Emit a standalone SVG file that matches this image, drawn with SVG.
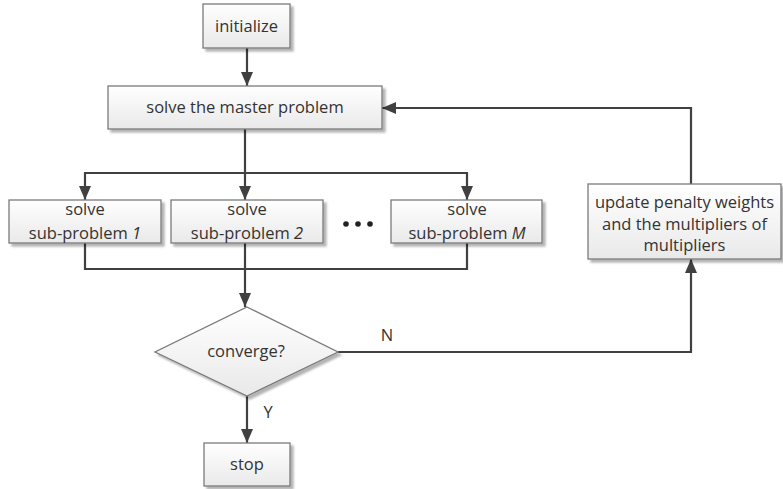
<svg xmlns="http://www.w3.org/2000/svg" width="783" height="489" viewBox="0 0 783 489">
<defs>
<linearGradient id="g" x1="0" y1="0" x2="0" y2="1">
<stop offset="0" stop-color="#ffffff"/>
<stop offset="1" stop-color="#e9e9e9"/>
</linearGradient>
<filter id="sh" x="-10%" y="-10%" width="130%" height="140%">
<feGaussianBlur in="SourceAlpha" stdDeviation="1"/>
<feOffset dx="3" dy="3" result="b"/>
<feComponentTransfer><feFuncA type="linear" slope="0.3"/></feComponentTransfer>
<feMerge><feMergeNode/><feMergeNode in="SourceGraphic"/></feMerge>
</filter>
<marker id="ar" markerWidth="14" markerHeight="12" viewBox="0 0 14 12" refX="14" refY="6" orient="auto" markerUnits="userSpaceOnUse">
<path d="M0,0 L14,6 L0,12 z" fill="#404040"/>
</marker>
</defs>
<style>
.box{fill:url(#g);stroke:#7a7a7a;stroke-width:1.3;filter:url(#sh)}
.t{font-family:"Open Sans","Liberation Sans",sans-serif;font-size:16.5px;fill:#333;text-anchor:middle}
.c{fill:none;stroke:#404040;stroke-width:2.2}
</style>
<g id="connectors">
<path class="c" d="M247,48 V86" marker-end="url(#ar)"/>
<path class="c" d="M245,129 V173 H85 V200" marker-end="url(#ar)"/>
<path class="c" d="M245,173 V200" marker-end="url(#ar)"/>
<path class="c" d="M245,173 H467 V200" marker-end="url(#ar)"/>
<path class="c" d="M85,243 V269 H467 V243"/>
<path class="c" d="M245,243 V307" marker-end="url(#ar)"/>
<path class="c" d="M247,396 V443" marker-end="url(#ar)"/>
<path class="c" d="M338,352 H691 V259" marker-end="url(#ar)"/>
<path class="c" d="M691,184 V108 H382" marker-end="url(#ar)"/>
<text class="t" x="387" y="341">N</text>
<text class="t" x="268" y="418">Y</text>
</g>
<g id="initialize">
<rect class="box" x="203" y="4" width="87" height="44"/>
<text class="t" x="246.5" y="32">initialize</text>
</g>
<g id="master">
<rect class="box" x="108" y="86" width="274" height="43"/>
<text class="t" x="245" y="113">solve the master problem</text>
</g>
<g id="sub1">
<rect class="box" x="9" y="200" width="152" height="43"/>
<text class="t" x="85" y="215">solve</text>
<text class="t" x="85" y="239">sub-problem <tspan font-style="italic">1</tspan></text>
</g>
<g id="sub2">
<rect class="box" x="171" y="200" width="152" height="43"/>
<text class="t" x="247" y="215">solve</text>
<text class="t" x="247" y="239">sub-problem <tspan font-style="italic">2</tspan></text>
</g>
<g id="dots" fill="#222">
<circle cx="346" cy="224" r="2.8"/>
<circle cx="358" cy="224" r="2.8"/>
<circle cx="370" cy="224" r="2.8"/>
</g>
<g id="subM">
<rect class="box" x="391" y="200" width="151" height="43"/>
<text class="t" x="467" y="215">solve</text>
<text class="t" x="467" y="239">sub-problem <tspan font-style="italic">M</tspan></text>
</g>
<g id="update">
<rect class="box" x="588" y="184" width="193" height="75"/>
<text class="t" x="684.5" y="208">update penalty weights</text>
<text class="t" x="684.5" y="230">and the multipliers of</text>
<text class="t" x="684.5" y="251">multipliers</text>
</g>
<g id="converge">
<polygon class="box" points="247,307 338,352 247,396 155,352"/>
<text class="t" x="246" y="357">converge?</text>
</g>
<g id="stop">
<rect class="box" x="204" y="443" width="86" height="43"/>
<text class="t" x="247" y="470">stop</text>
</g>
</svg>
